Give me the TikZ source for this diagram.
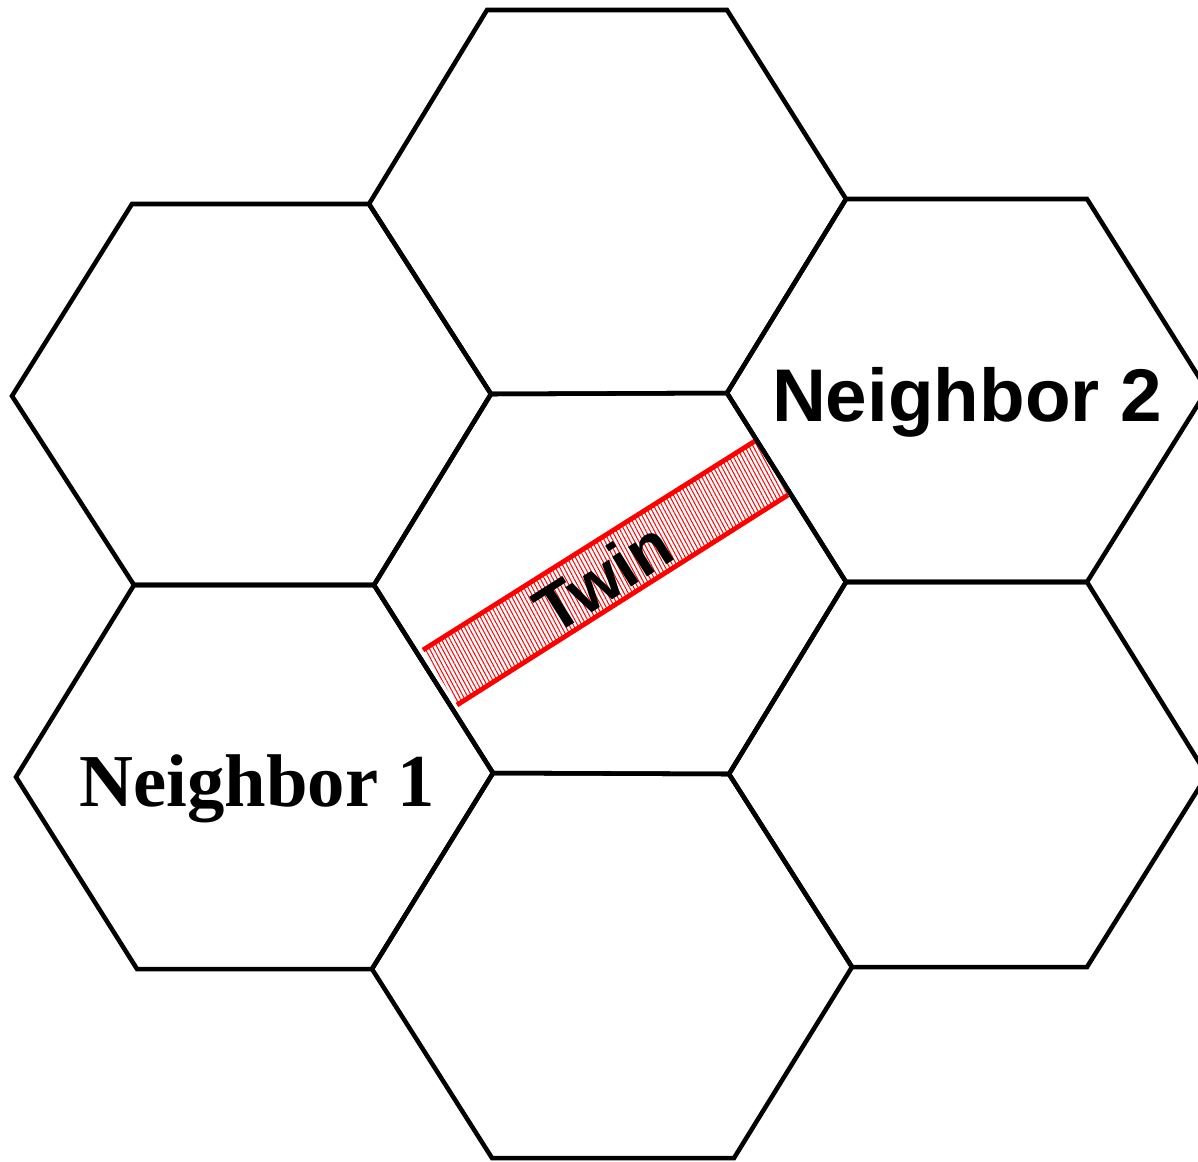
\documentclass[tikz,border=0pt]{standalone}
\usepackage{fontspec}
\newfontfamily\labelsans{Liberation Sans}
\newfontfamily\labelserif{Liberation Serif}
\usetikzlibrary{patterns.meta}
\begin{document}
\begin{tikzpicture}[x=0.75pt,y=-0.75pt,
  cell/.style={draw=black,line width=3.4pt,line join=miter},
  twinband/.style={pattern={Lines[angle=-62,distance=2.8pt,line width=0.75pt]},pattern color=red},
  twinedge/.style={draw=red,line width=3.6pt},
  bigsans/.style={font=\labelsans\bfseries\fontsize{56}{60}\selectfont},
  twinfont/.style={font=\labelsans\bfseries\fontsize{50}{56}\selectfont},
  bigserif/.style={font=\labelserif\bfseries\fontsize{56}{60}\selectfont}]
\useasboundingbox (0,0) rectangle (1198,1161);
\clip (0,0) rectangle (1198,1161);

% shared hexagon vertices
\coordinate (t1) at (487,10);
\coordinate (t2) at (727,10);
\coordinate (a) at (369,204);
\coordinate (b) at (846,199);
\coordinate (c1) at (491,394);
\coordinate (c2) at (727,393);
\coordinate (c3) at (846,582);
\coordinate (c4) at (729,774);
\coordinate (c5) at (493,773);
\coordinate (c6) at (374,585);
\coordinate (ul1) at (132,204);
\coordinate (ul6) at (12,396);
\coordinate (ul5) at (134,585);
\coordinate (ur2) at (1087,199);
\coordinate (ur3) at (1207,390);
\coordinate (ur4) at (1087,582);
\coordinate (ll6) at (16,777);
\coordinate (ll5) at (137,969);
\coordinate (ll4) at (372,969);
\coordinate (lr3) at (1207,775);
\coordinate (lr4) at (1087,967);
\coordinate (lr5) at (852,967);
\coordinate (b4) at (734,1158);
\coordinate (b5) at (492,1158);

% twin band across the central grain
\coordinate (tw1) at (423,650);
\coordinate (tw2) at (755,441);
\coordinate (tw3) at (788,495);
\coordinate (tw4) at (457,705);
\fill[twinband] (tw1) -- (tw2) -- (tw3) -- (tw4) -- cycle;
\draw[twinedge] (tw1) -- (tw2);
\draw[twinedge] (tw4) -- (tw3);

% grains
\draw[cell] (t1) -- (t2) -- (b) -- (c2) -- (c1) -- (a) -- cycle;
\draw[cell] (ul1) -- (a) -- (c1) -- (c6) -- (ul5) -- (ul6) -- cycle;
\draw[cell] (c2) -- (b) -- (ur2) -- (ur3) -- (ur4) -- (c3) -- cycle;
\draw[cell] (c1) -- (c2) -- (c3) -- (c4) -- (c5) -- (c6) -- cycle;
\draw[cell] (ul5) -- (c6) -- (c5) -- (ll4) -- (ll5) -- (ll6) -- cycle;
\draw[cell] (c3) -- (ur4) -- (lr3) -- (lr4) -- (lr5) -- (c4) -- cycle;
\draw[cell] (c5) -- (c4) -- (lr5) -- (b4) -- (b5) -- (ll4) -- cycle;

% labels
\node[twinfont,rotate=32.3] (twin) at (603,577) {Twin};
\node[bigsans,anchor=base] (n2) at (967,421) {Neighbor 2};
\node[bigserif,anchor=base] (n1) at (257,806) {Neighbor 1};
\end{tikzpicture}
\end{document}
